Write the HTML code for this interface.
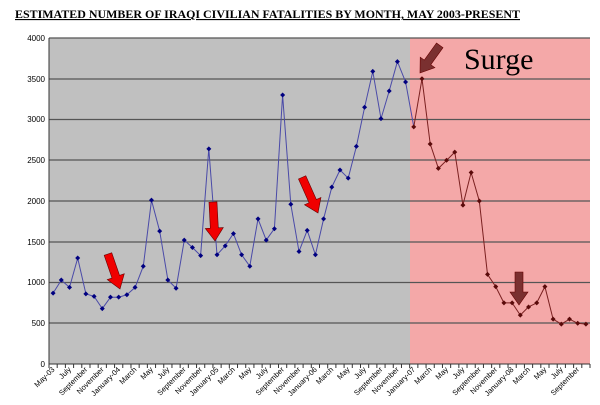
<!DOCTYPE html>
<html><head><meta charset="utf-8"><style>
body{margin:0;background:#fff;}
svg{display:block;}
</style></head><body>
<svg width="600" height="405" xmlns="http://www.w3.org/2000/svg" font-family="Liberation Sans, sans-serif">
<text x="15" y="18" font-family="Liberation Serif, serif" font-weight="bold" font-size="11.3" text-decoration="underline" textLength="505" lengthAdjust="spacingAndGlyphs">ESTIMATED NUMBER OF IRAQI CIVILIAN FATALITIES BY MONTH, MAY 2003-PRESENT</text>
<rect x="49" y="38" width="361" height="326" fill="#c0c0c0"/>
<rect x="410" y="38" width="180" height="326" fill="#f4a8a8"/>
<g stroke="#555" stroke-width="1.2">
<line x1="49" y1="38" x2="590" y2="38"/><line x1="49" y1="79" x2="590" y2="79"/><line x1="49" y1="119.5" x2="590" y2="119.5"/><line x1="49" y1="160" x2="590" y2="160"/><line x1="49" y1="201" x2="590" y2="201"/><line x1="49" y1="242" x2="590" y2="242"/><line x1="49" y1="282.5" x2="590" y2="282.5"/><line x1="49" y1="323" x2="590" y2="323"/>
</g>
<line x1="49" y1="364" x2="590" y2="364" stroke="#333"/>
<line x1="49" y1="38" x2="49" y2="364" stroke="#333"/>
<g font-size="8" text-anchor="end" fill="#000">
<text x="45" y="41">4000</text><text x="45" y="82">3500</text><text x="45" y="122">3000</text><text x="45" y="163">2500</text><text x="45" y="204">2000</text><text x="45" y="245">1500</text><text x="45" y="285">1000</text><text x="45" y="326">500</text><text x="45" y="367">0</text>
</g>
<g id="ch"></g>
<text x="464" y="69" font-family="Liberation Serif, serif" font-size="30">Surge</text>
<g id="arrows"></g>
</svg>
<script>
var v=[870,1030,940,1300,860,830,680,820,820,850,940,1200,2010,1630,1030,930,1520,1430,1330,2640,1340,1450,1600,1340,1200,1780,1520,1660,3300,1960,1380,1640,1340,1780,2170,2380,2280,2670,3150,3590,3010,3350,3710,3460,2910,3500,2700,2400,2500,2600,1950,2350,2000,1100,950,750,750,600,700,750,950,550,490,550,500,490];
var s=541/66,g=document.getElementById('ch'),h='';
function X(i){return 49+s*(i+0.5);}function Y(val){return 364-val*326/4000;}
var months=["January","February","March","April","May","June","July","August","September","October","November","December"];
var p1=[],p2=[];
for(var i=0;i<66;i++){var p=X(i).toFixed(1)+','+Y(v[i]).toFixed(1);if(i<=44)p1.push(p);if(i>=44)p2.push(p);}
h+='<polyline points="'+p1.join(' ')+'" fill="none" stroke="#4a4aa8" stroke-width="1"/>';
h+='<polyline points="'+p2.join(' ')+'" fill="none" stroke="#7a2020" stroke-width="1"/>';
for(var i=0;i<66;i++){var c=i<44?'#000080':'#5a0a0a';var x=X(i),y=Y(v[i]);
h+='<path d="M'+x+' '+(y-2.5)+'L'+(x+2.5)+' '+y+'L'+x+' '+(y+2.5)+'L'+(x-2.5)+' '+y+'Z" fill="'+c+'"/>';}
for(var i=0;i<=66;i++){var tx=49+s*i;h+='<line x1="'+tx+'" y1="364" x2="'+tx+'" y2="368" stroke="#333"/>';}
for(var i=0;i<66;i+=2){var m=(4+i)%12,yr=2003+Math.floor((4+i)/12);var lab=months[m];
if(m==0)lab='January-'+String(yr).slice(2);if(i==0)lab='May-03';
var x=X(i)+2,y=370;h+='<text font-size="7.5" text-anchor="end" transform="translate('+x+','+y+') rotate(-45)">'+lab+'</text>';}
g.innerHTML=h;
var A=[[120,289,-19,37,'#f00000'],[215,241,-3,39,'#f00000'],[318,213,-24,39,'#f00000'],[420,73,35.5,34,'#7a3030'],[519,305,0,33,'#7a3030']];
var a='';A.forEach(function(r){a+='<g transform="translate('+r[0]+','+r[1]+') rotate('+r[2]+')"><path d="M-4 '+(-r[3])+'L4 '+(-r[3])+'L4 -13L9 -13L0 0L-9 -13L-4 -13Z" fill="'+r[4]+'" stroke="#600" stroke-width="0.6"/></g>';});
document.getElementById('arrows').innerHTML=a;
</script>
</body></html>
